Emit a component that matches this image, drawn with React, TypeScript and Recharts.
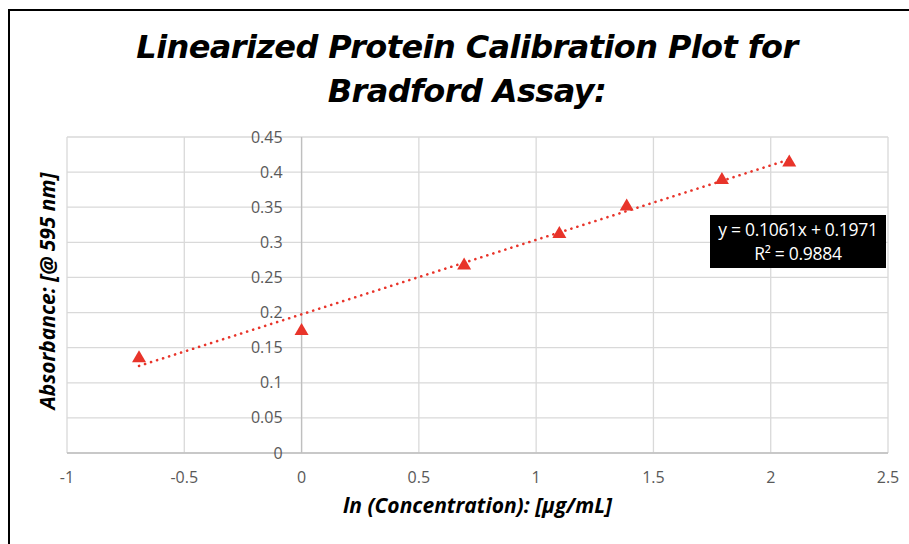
import { ScatterChart, Scatter, XAxis, YAxis, CartesianGrid, ReferenceLine } from 'recharts';

const lnConcentration = [-0.693, 0, 0.693, 1.099, 1.386, 1.792, 2.079];
const absorbance = [0.137, 0.176, 0.269, 0.314, 0.353, 0.391, 0.416];
const trendX = [-0.693, 2.079];
const trendY = [0.124, 0.418];
const xTicks = [-1, -0.5, 0, 0.5, 1, 1.5, 2, 2.5];
const yTicks = [0, 0.05, 0.1, 0.15, 0.2, 0.25, 0.3, 0.35, 0.4, 0.45];

const points = lnConcentration.map((x, i) => ({ x, y: absorbance[i] }));
const trend = trendX.map((x, i) => ({ x, y: trendY[i] }));

const W = 909;
const H = 544;
const margin = { top: 137, right: 21, bottom: 51, left: 66 };
const Y_AXIS_W = 1;
const X_MIN = -1;
const X_MAX = 2.5;
// the value axis crosses at x = 0, like Excel does it
const plotLeft = margin.left + Y_AXIS_W;
const zeroX = plotLeft + ((W - plotLeft - margin.right) * (0 - X_MIN)) / (X_MAX - X_MIN);

const RED = '#e8342a';
const labelFont = "'Open Sans', sans-serif";

const Triangle = (props: any) => {
  const { cx, cy } = props;
  return <polygon points={`${cx},${cy - 6.5} ${cx + 7},${cy + 5.5} ${cx - 7},${cy + 5.5}`} fill={RED} />;
};

const renderYTick = (props: any) => {
  const { y, payload } = props;
  return (
    <text x={zeroX - 19} y={y} dy="0.35em" textAnchor="end" fill="#595959" fontSize={16} fontFamily={labelFont}>
      {payload.value}
    </text>
  );
};

const App = () => {
  return (
    <div style={{ position: 'fixed', left: 0, top: 0, width: W, height: H, overflow: 'hidden', background: '#fff' }}>
      <div style={{ position: 'absolute', left: 8, top: 9, width: 1000, height: 1000, borderLeft: '2px solid #000', borderTop: '2px solid #000' }} />
      <div
        style={{
          position: 'absolute', left: 0, top: 25, width: 934, textAlign: 'center',
          fontFamily: "'DejaVu Sans', sans-serif", fontWeight: 'bold', fontStyle: 'italic',
          fontSize: 32, lineHeight: '44px', color: '#000', letterSpacing: -0.6,
        }}
      >
        Linearized Protein Calibration Plot for
        <br />
        Bradford Assay:
      </div>
      <ScatterChart width={W} height={H} margin={margin}>
        <CartesianGrid stroke="#d9d9d9" strokeWidth={1.3} />
        <XAxis
          dataKey="x"
          type="number"
          domain={[X_MIN, X_MAX]}
          ticks={xTicks}
          allowDataOverflow
          axisLine={{ stroke: '#bfbfbf', strokeWidth: 1.3 }}
          tickLine={false}
          tickMargin={13}
          height={40}
          tick={{ fill: '#595959', fontSize: 16, fontFamily: labelFont }}
        />
        <YAxis
          dataKey="y"
          type="number"
          domain={[0, 0.45]}
          ticks={yTicks}
          interval={0}
          allowDataOverflow
          axisLine={false}
          tickLine={false}
          width={Y_AXIS_W}
          tick={renderYTick}
        />
        <ReferenceLine x={0} stroke="#bfbfbf" strokeWidth={1.3} />
        <Scatter data={points} shape={<Triangle />} isAnimationActive={false} />
        <Scatter
          data={trend}
          line={{ stroke: RED, strokeWidth: 2.6, strokeDasharray: '0.1 6.2', strokeLinecap: 'round' }}
          shape={() => <g />}
          isAnimationActive={false}
        />
      </ScatterChart>
      <div
        style={{
          position: 'absolute', left: 0, top: 491, width: 955, textAlign: 'center',
          fontFamily: labelFont, fontWeight: 'bold', fontStyle: 'italic', fontSize: 21, color: '#000',
        }}
      >
        ln (Concentration): [µg/mL]
      </div>
      <div
        style={{
          position: 'absolute', left: 47, top: 291, width: 300, marginLeft: -150, marginTop: -15, height: 30,
          textAlign: 'center', transform: 'rotate(-90deg)', whiteSpace: 'nowrap',
          fontFamily: labelFont, fontWeight: 'bold', fontStyle: 'italic', fontSize: 21, lineHeight: '30px', color: '#000',
        }}
      >
        Absorbance: [@ 595 nm]
      </div>
      <div
        style={{
          position: 'absolute', left: 710, top: 215, width: 176, height: 53, background: '#000', color: '#fff',
          textAlign: 'center', fontFamily: labelFont, fontSize: 17.5, lineHeight: '24px', paddingTop: 2, boxSizing: 'border-box',
          letterSpacing: -0.3,
        }}
      >
        y = 0.1061x + 0.1971
        <br />
        R² = 0.9884
      </div>
    </div>
  );
};

export default App;
